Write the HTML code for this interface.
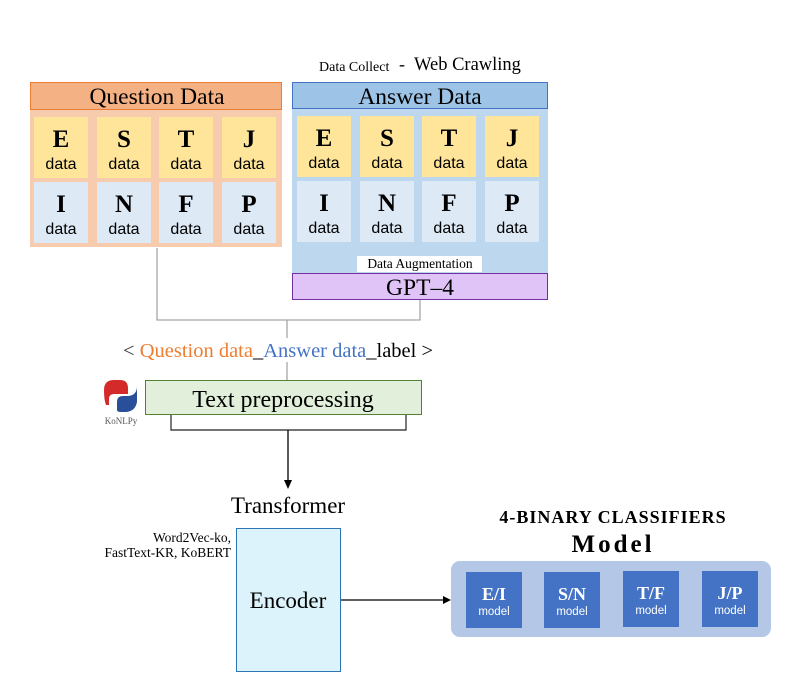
<!DOCTYPE html>
<html><head><meta charset="utf-8"><style>
html,body{margin:0;padding:0;background:#fff;}
svg{display:block;}
.s{font-family:"Liberation Serif",serif;}
.a{font-family:"Liberation Sans",sans-serif;}
</style></head><body>
<svg width="802" height="688" viewBox="0 0 802 688" xmlns="http://www.w3.org/2000/svg">
<text x="319" y="71" class="s" font-size="14">Data Collect</text>
<text x="399" y="70" class="s" font-size="18">-</text>
<text x="414" y="70" class="s" font-size="18.5">Web Crawling</text>

<rect x="30" y="110" width="252" height="137" fill="#f7cbad"/>
<rect x="30.5" y="82.5" width="251" height="27" fill="#f4b183" stroke="#ed7d31"/>
<text x="157" y="104" text-anchor="middle" class="s" font-size="23.5">Question Data</text>
<g class="s" font-weight="bold" font-size="25" text-anchor="middle">
<rect x="34" y="117" width="54" height="61" fill="#fee599"/><rect x="97" y="117" width="54" height="61" fill="#fee599"/><rect x="159" y="117" width="54" height="61" fill="#fee599"/><rect x="222" y="117" width="54" height="61" fill="#fee599"/>
<rect x="34" y="182" width="54" height="61" fill="#dde9f5"/><rect x="97" y="182" width="54" height="61" fill="#dde9f5"/><rect x="159" y="182" width="54" height="61" fill="#dde9f5"/><rect x="222" y="182" width="54" height="61" fill="#dde9f5"/>
<text x="61" y="147">E</text><text x="124" y="147">S</text><text x="186" y="147">T</text><text x="249" y="147">J</text>
<text x="61" y="212">I</text><text x="124" y="212">N</text><text x="186" y="212">F</text><text x="249" y="212">P</text>
</g>
<g class="a" font-size="16" text-anchor="middle">
<text x="61" y="169">data</text><text x="124" y="169">data</text><text x="186" y="169">data</text><text x="249" y="169">data</text>
<text x="61" y="234">data</text><text x="124" y="234">data</text><text x="186" y="234">data</text><text x="249" y="234">data</text>
</g>

<rect x="292" y="108" width="256" height="166" fill="#bdd7ee"/>
<rect x="292.5" y="82.5" width="255" height="26" fill="#9dc3e6" stroke="#4472c4"/>
<text x="420" y="104" text-anchor="middle" class="s" font-size="23.5">Answer Data</text>
<g class="s" font-weight="bold" font-size="25" text-anchor="middle">
<rect x="297" y="116" width="54" height="61" fill="#fee599"/><rect x="360" y="116" width="54" height="61" fill="#fee599"/><rect x="422" y="116" width="54" height="61" fill="#fee599"/><rect x="485" y="116" width="54" height="61" fill="#fee599"/>
<rect x="297" y="181" width="54" height="61" fill="#dde9f5"/><rect x="360" y="181" width="54" height="61" fill="#dde9f5"/><rect x="422" y="181" width="54" height="61" fill="#dde9f5"/><rect x="485" y="181" width="54" height="61" fill="#dde9f5"/>
<text x="324" y="146">E</text><text x="387" y="146">S</text><text x="449" y="146">T</text><text x="512" y="146">J</text>
<text x="324" y="211">I</text><text x="387" y="211">N</text><text x="449" y="211">F</text><text x="512" y="211">P</text>
</g>
<g class="a" font-size="16" text-anchor="middle">
<text x="324" y="168">data</text><text x="387" y="168">data</text><text x="449" y="168">data</text><text x="512" y="168">data</text>
<text x="324" y="233">data</text><text x="387" y="233">data</text><text x="449" y="233">data</text><text x="512" y="233">data</text>
</g>
<rect x="357" y="256" width="125" height="16" fill="#fff"/>
<text x="420" y="268" text-anchor="middle" class="s" font-size="13.5">Data Augmentation</text>
<rect x="292.5" y="273.5" width="255" height="26" fill="#e0c4f8" stroke="#7030a0"/>
<text x="420" y="295" text-anchor="middle" class="s" font-size="23.5">GPT–4</text>

<g stroke="#a6a6a6" stroke-width="1.3" fill="none">
<path d="M157 248 V320 H420 V300"/>
<path d="M287 320 V338"/>
<path d="M287 362 V380"/>
</g>
<text x="123" y="357" class="s" font-size="20.5"><tspan fill="#333">&lt; </tspan><tspan fill="#ed7d31">Question data</tspan><tspan>_</tspan><tspan fill="#4472c4">Answer data</tspan><tspan>_label &gt;</tspan></text>

<path d="M104 390 q0-10 10-10 h6 q8 0 8 8 v6 h-14 q-5 0-5 5 v6 h-3 q-2-5-2-15z" fill="#d42a2a"/>
<path d="M137 386 q0 10-10 10 h-4 q-6 0-6 6 v8 q0 2 4 2 h4 q10 0 12-10 z" fill="#2a4f9a"/>
<text x="121" y="424" text-anchor="middle" class="s" font-size="9" fill="#555">KoNLPy</text>

<rect x="145.5" y="380.5" width="276" height="34" fill="#e2efda" stroke="#548235"/>
<text x="283" y="407" text-anchor="middle" class="s" font-size="24">Text preprocessing</text>
<path d="M171 415 V430 H406 V415" stroke="#222" stroke-width="1.2" fill="none"/>
<path d="M288 430 V480" stroke="#000" stroke-width="1.3"/>
<path d="M284 480 L292 480 L288 489 Z" fill="#000"/>
<text x="288" y="513" text-anchor="middle" class="s" font-size="23">Transformer</text>

<text x="231" y="542" text-anchor="end" class="s" font-size="13.5">Word2Vec-ko,</text>
<text x="231" y="557" text-anchor="end" class="s" font-size="13.5">FastText-KR, KoBERT</text>
<rect x="236.5" y="528.5" width="104" height="143" fill="#ddf3fc" stroke="#2e75b6"/>
<text x="288" y="608" text-anchor="middle" class="s" font-size="23">Encoder</text>
<path d="M341 600 H444" stroke="#000" stroke-width="1.3"/>
<path d="M443 596 L451 600 L443 604 Z" fill="#000"/>

<text x="613" y="523" text-anchor="middle" class="s" font-weight="bold" font-size="18" letter-spacing="1">4-BINARY  CLASSIFIERS</text>
<text x="613" y="552" text-anchor="middle" class="s" font-weight="bold" font-size="25" letter-spacing="3">Model</text>
<rect x="451" y="561" width="320" height="76" rx="9" fill="#b4c7e7"/>
<g fill="#4472c4"><rect x="466" y="572" width="56" height="56"/><rect x="544" y="572" width="56" height="56"/><rect x="623" y="571" width="56" height="56"/><rect x="702" y="571" width="56" height="56"/></g>
<g fill="#fff" text-anchor="middle">
<g class="s" font-weight="bold" font-size="18"><text x="494" y="600">E/I</text><text x="572" y="600">S/N</text><text x="651" y="599">T/F</text><text x="730" y="599">J/P</text></g>
<g class="a" font-size="11.5"><text x="494" y="615">model</text><text x="572" y="615">model</text><text x="651" y="614">model</text><text x="730" y="614">model</text></g>
</g>
</svg>
</body></html>
